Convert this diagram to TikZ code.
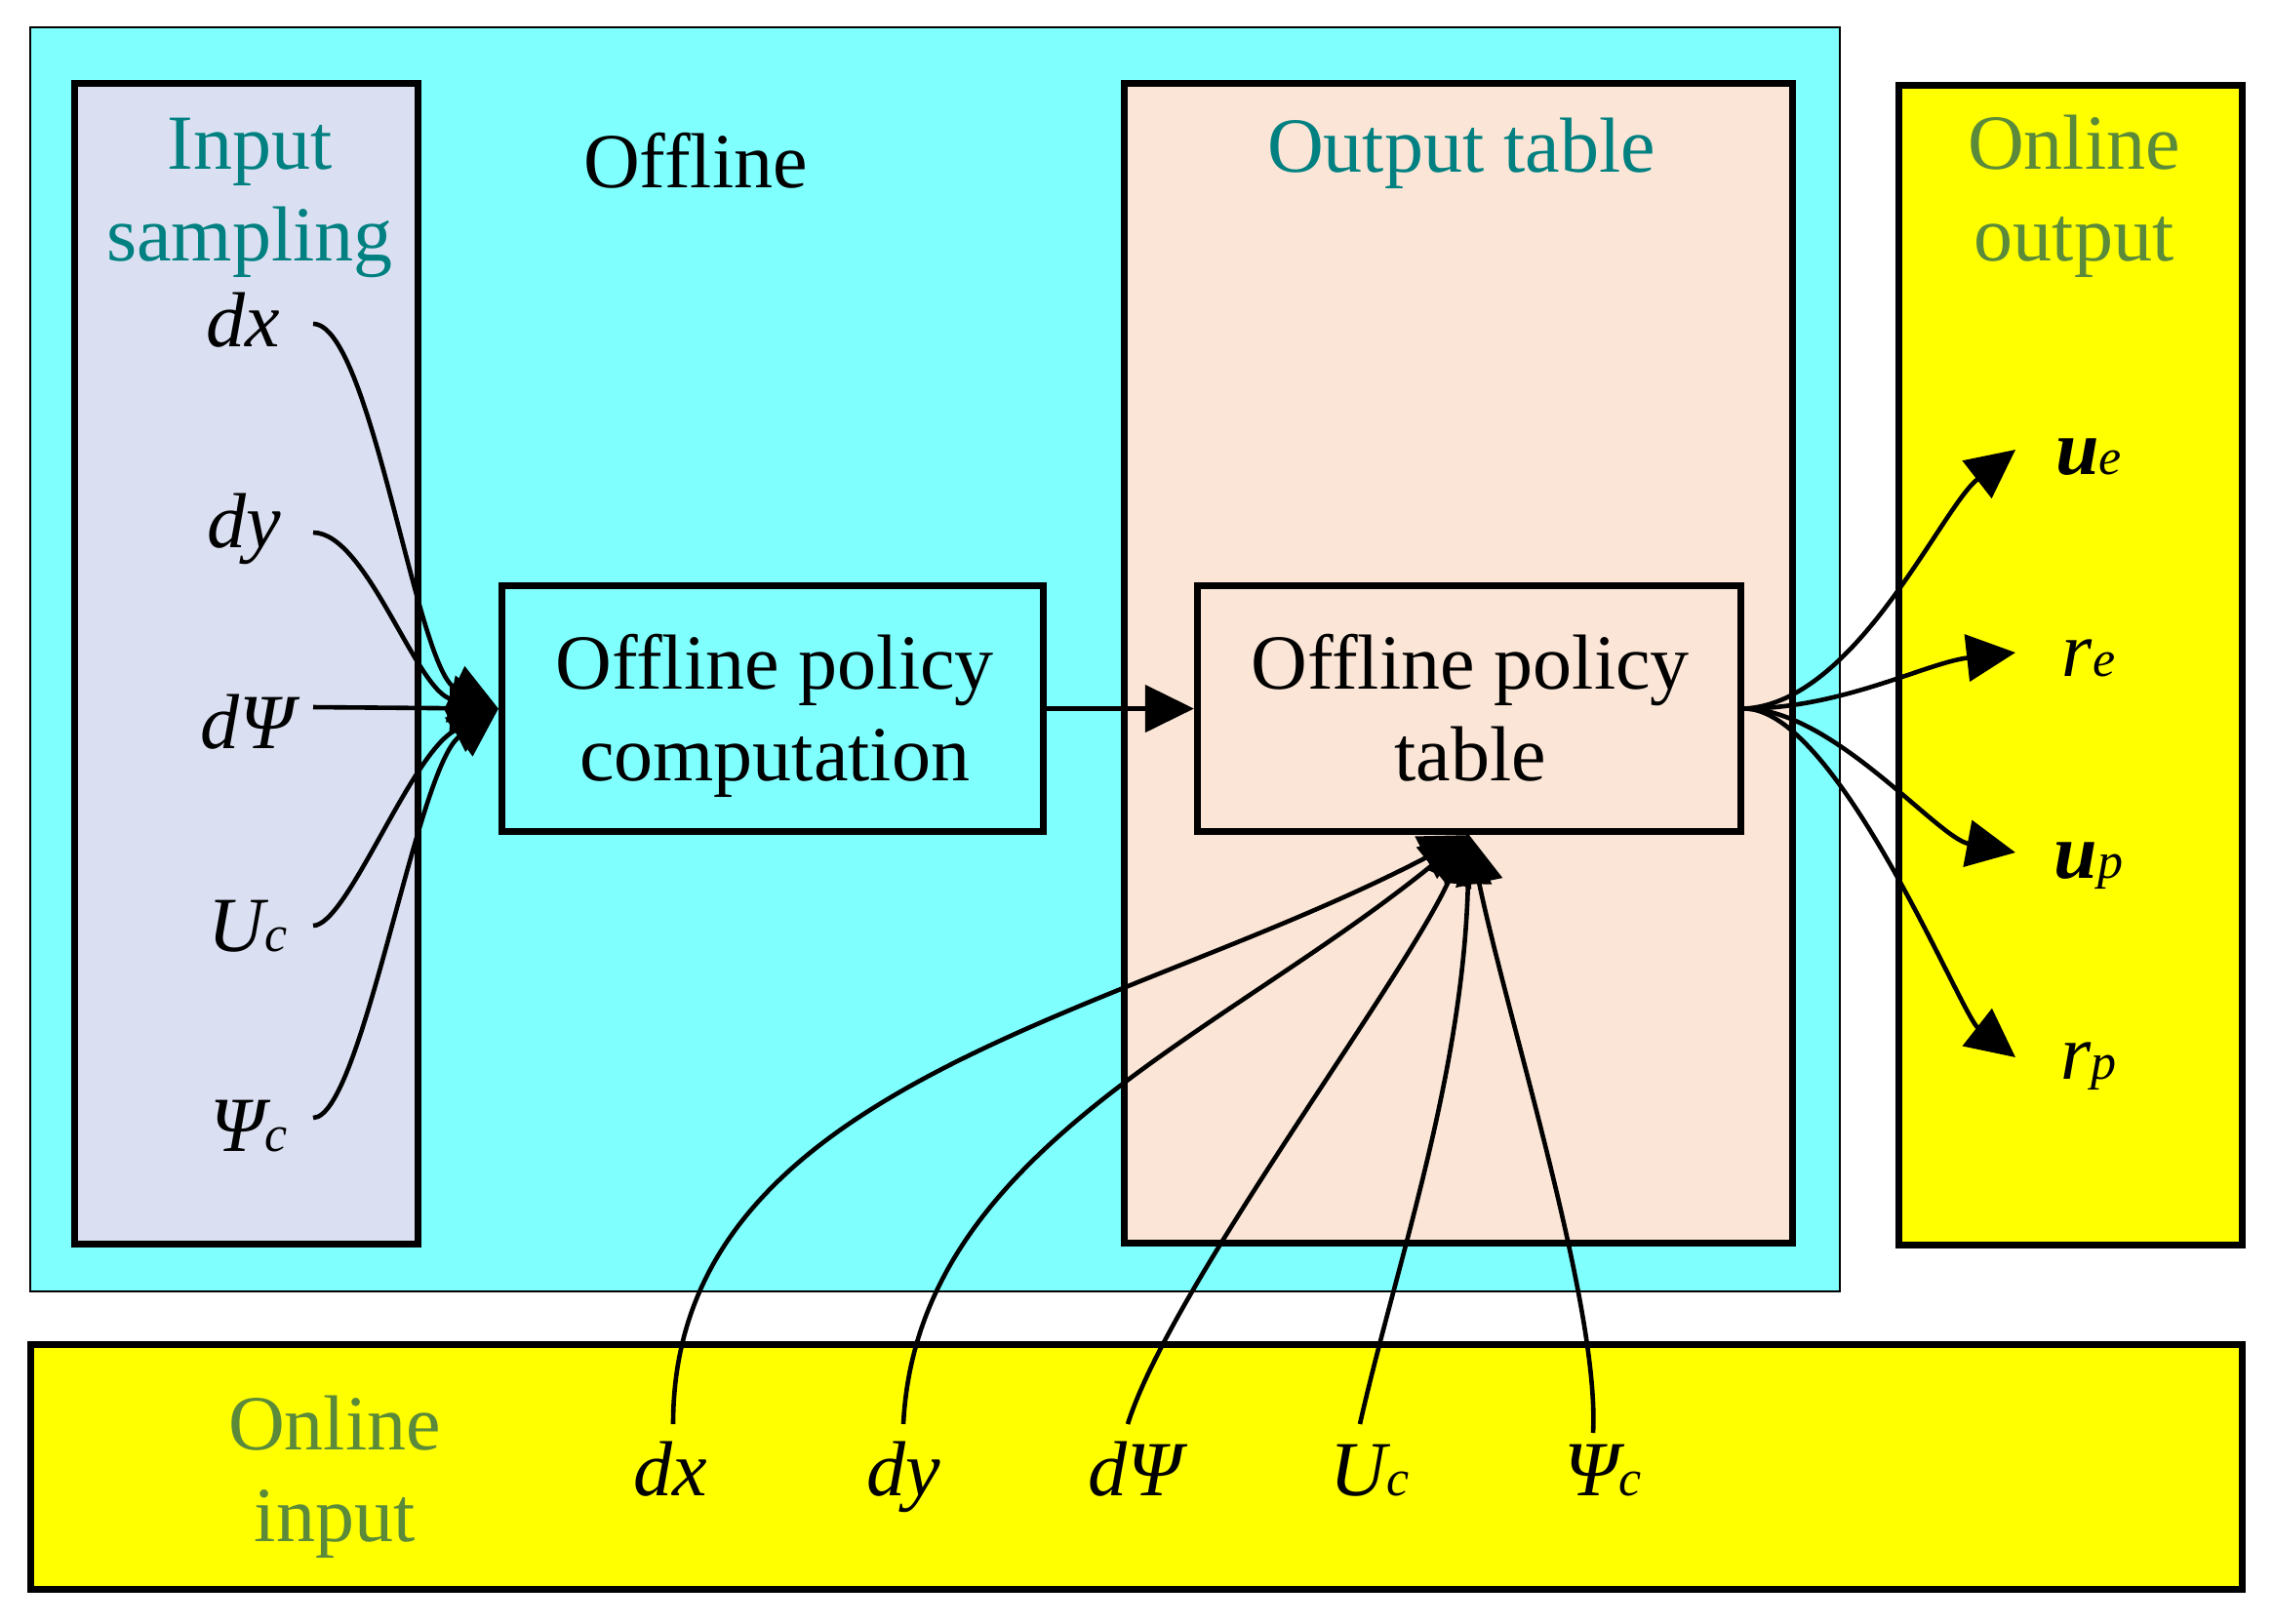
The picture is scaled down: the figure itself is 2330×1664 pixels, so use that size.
\documentclass[tikz,border=0pt]{standalone}
\usepackage{fontspec}
\setmainfont{Liberation Serif}
\usetikzlibrary{arrows.meta,fit}
\definecolor{cyanbg}{HTML}{80FFFF}
\definecolor{lavender}{HTML}{DAE0F2}
\definecolor{peach}{HTML}{FAE5D6}
\definecolor{yellowbg}{HTML}{FFFF00}
\definecolor{tealtxt}{HTML}{008080}
\definecolor{olivetxt}{HTML}{5B8A3A}
\newcommand\lsub[2]{#1{\fontsize{13}{13}\selectfont #2}}
\begin{document}
\begin{tikzpicture}[x=0.25pt,y=-0.25pt,
  panel/.style={draw, line width=1.8pt, inner sep=0pt},
  lbl/.style={font=\fontsize{20}{23.5}\selectfont, align=center, inner sep=0pt},
  mlbl/.style={font=\fontsize{20}{23.5}\selectfont\itshape, inner sep=0pt, anchor=base},
  conn/.style={line width=1.15pt, -{Triangle[length=12.5pt,width=12pt]}}]
\fill[white] (0,0) rectangle (2330,1664);
\useasboundingbox (0,0) rectangle (2330,1664);
% panels
\node[panel, fill=cyanbg, line width=0.5pt, fit={(31,28) (1886,1324)}] (offline) {};
\node[panel, fill=lavender, fit={(76.5,85.5) (428.5,1275.5)}] (insamp) {};
\node[panel, fill=peach, fit={(1152.5,85.5) (1837.5,1274.5)}] (outtab) {};
\node[panel, fill=yellowbg, fit={(1946.5,87.5) (2298.5,1276.5)}] (onout) {};
\node[panel, fill=yellowbg, fit={(31.5,1378.5) (2298.5,1629.5)}] (onin) {};
\node[panel, fill=cyanbg, fit={(514.5,600.5) (1069.5,852.5)}] (comp) {};
\node[panel, fill=peach, fit={(1227.5,600.5) (1784.5,852.5)}] (table) {};
% titles (base anchor = baseline of the last line)
\node[lbl, text=tealtxt, anchor=base] (insampT) at (256,267) {Input\\sampling};
\node[lbl, anchor=base] (offT) at (713,192) {Offline};
\node[lbl, text=tealtxt, anchor=base] (outtabT) at (1498,176) {Output table};
\node[lbl, text=olivetxt, anchor=base] (onoutT) at (2126,267) {Online\\output};
\node[lbl, text=olivetxt, anchor=base] (oninT) at (343,1580) {Online\\input};
\node[lbl, anchor=base] (compT) at (794,800) {Offline policy\\computation};
\node[lbl, anchor=base] (tableT) at (1507,800) {Offline policy\\table};
% left inputs
\node[mlbl] (ldx) at (249,355) {dx};
\node[mlbl] (ldy) at (250,561) {dy};
\node[mlbl] (ldpsi) at (254,767) {dΨ};
\node[mlbl] (luc) at (254,975) {\lsub{U}{c}};
\node[mlbl] (lpsic) at (255,1180) {\lsub{Ψ}{c}};
% bottom inputs
\node[mlbl] (bdx) at (687,1533) {dx};
\node[mlbl] (bdy) at (926,1533) {dy};
\node[mlbl] (bdpsi) at (1164,1533) {dΨ};
\node[mlbl] (buc) at (1404,1533) {\lsub{U}{c}};
\node[mlbl] (bpsic) at (1643,1533) {\lsub{Ψ}{c}};
% outputs
\node[mlbl] (oue) at (2141,486) {\lsub{{\bfseries u}}{e}};
\node[mlbl] (ore) at (2141,693) {\lsub{r}{e}};
\node[mlbl] (oup) at (2141,900) {\lsub{{\bfseries u}}{p}};
\node[mlbl] (orp) at (2141,1106) {\lsub{r}{p}};
% connector ends
\coordinate (s1) at (321,332);
\coordinate (s2) at (321,546);
\coordinate (s3) at (321,725);
\coordinate (s4) at (321,949);
\coordinate (s5) at (321,1146);
\coordinate (b1) at (690,1460);
\coordinate (b2) at (926,1460);
\coordinate (b3) at (1156,1460);
\coordinate (b4) at (1394,1460);
\coordinate (b5) at (1633,1469);
\coordinate (t1) at (2066,461);
\coordinate (t2) at (2066,669);
\coordinate (t3) at (2066,874);
\coordinate (t4) at (2066,1084);
% left connectors
\draw[conn] (s1) .. controls +(59,0) and +(-84,-40) .. (comp.west);
\draw[conn] (s2) .. controls +(55,0) and +(-84,-17) .. (comp.west);
\draw[conn] (s3) -- (comp.west);
\draw[conn] (s4) .. controls +(35,0) and +(-90,45) .. (comp.west);
\draw[conn] (s5) .. controls +(50,0) and +(-84,60) .. (comp.west);
% middle
\draw[conn] (comp.east) -- (table.west);
% bottom connectors
\draw[conn] (b1) .. controls +(0,-350) and +(-360,188) .. (table.south);
\draw[conn] (b2) .. controls +(14,-280) and +(-256,208) .. (table.south);
\draw[conn] (b3) .. controls +(44,-140) and +(-66,148) .. (table.south);
\draw[conn] (b4) .. controls +(36,-160) and +(-6,248) .. (table.south);
\draw[conn] (b5) .. controls +(7,-129) and +(39,188) .. (table.south);
% output connectors
\draw[conn] (table.east) .. controls +(115,-6) and +(-76,59) .. (t1);
\draw[conn] (table.east) .. controls +(100,0) and +(-90,10) .. (t2);
\draw[conn] (table.east) .. controls +(90,0) and +(-80,-15) .. (t3);
\draw[conn] (table.east) .. controls +(95,0) and +(-56,-44) .. (t4);
\end{tikzpicture}
\end{document}
